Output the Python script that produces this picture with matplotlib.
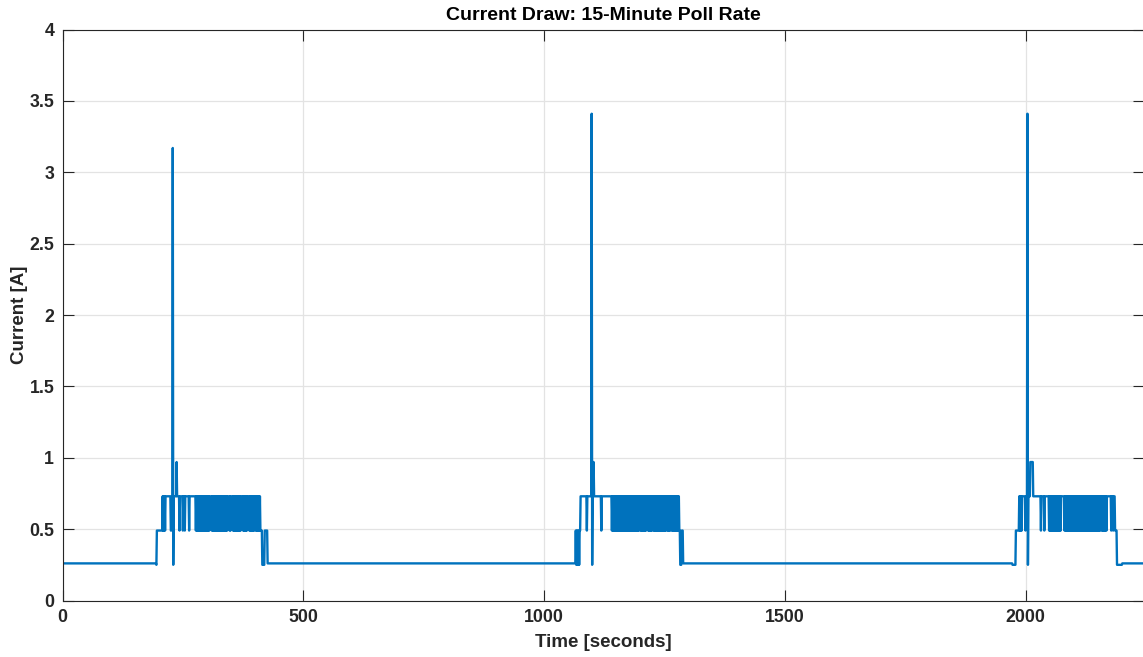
import numpy as np
import matplotlib.pyplot as plt

# current levels (A) used in the burst strings, one char = one 1 s sample
levels = {"b": 0.26, "d": 0.25, "m": 0.49, "h": 0.73, "k": 0.97}
peaks = [3.17, 3.41, 3.41]
burst_starts = [190, 1060, 1968]
t_end = 2250

burst1 = ("bbbbbd" "mmmmmmmmmmmm" "hmhmhmh" "hhhhhhhhhh" "mmhh" "Pd" "hhhhhh" "k"
          "hhhhh" "m" "hhhhhh" "m" "hhh" "m" "hhhhhhhh" "m" "hhhhhhhhhhhhh"
          "mhmhmhmhmh" "mhmhmhmhmh" "mhmhmhmhm" "hhhh"
          "mhmhmhmhmh" "mhmhmhmhmh" "mhmhmhmhmh" "mhmh" "hhh" "mhmh" "hhh"
          "mhmhmhmhmh" "mhmhmhmh" "hhh" "mhmhmhmhmh" "hhh" "mhmhmhmhmhm" "hh"
          "mhmhmhmhmh" "mmmm" "ddddd" "mmmmmm" "bb")
burst2 = ("bbbbbb" "mdmdmdmdm" "m" "hhhhhhhhhhhhh" "m" "hhhhhhhhh" "Pd" "hkkh"
          "hhhhhhhhhhhhhh" "m" "hhhhhhhhhh" "hhhhhhhhhh" "h"
          "mhmhmhmhmh" "mhmhmhmhmh" "mhmhmhmhmh" "mhmhmhmhmh" "mhmhmhmhmh" "mhmhmhm"
          "hh" "mhmhmhmhmh" "mhmh" "hh" "mhmhmhmhm" "hh"
          "mhmhmhmhmh" "mhmhmhmhmh" "mhmhmhm" "hh" "mhmhmhm" "hh"
          "mhmhmhmhmh" "mhmhmh" "mm" "ddd" "mmm" "bb")
burst3 = ("bbbbb" "ddddddd" "mmmmmmm" "hmhmhmh" "hhhhhh" "m" "hhh" "Pd" "hhh"
          "hkkkkkkh" "hhhhhhhhhhhhhhh" "m" "hhhhhh" "m" "hhhhhhhhh"
          "mhmhmhmhmh" "mhmhmhmhmh" "mhmhm" "hhhhhhh"
          "mhmhmhmhmh" "mhmhmhmhmh" "mhmhmhmhmh" "mhmhmhmhmh" "mhmhmhmhmh"
          "mhmhmhmhmh" "mhmhmhmhmh" "mhmhm" "hh" "mhmhmhmhmhmh" "hhhhhhhh"
          "mhhhmhhhm" "mmm" "ddddddddddd" "bb")
bursts = [burst1, burst2, burst3]

t = [0.0]
y = [levels["b"]]
for start, s, pk in zip(burst_starts, bursts, peaks):
    for i, c in enumerate(s):
        t.append(start + i)
        y.append(pk if c == "P" else levels[c])
t.append(t_end)
y.append(levels["b"])

plt.rcParams['font.family'] = ['Liberation Sans', 'DejaVu Sans']
fig = plt.figure(figsize=(11.43, 6.57), dpi=100)
ax = fig.add_axes([62.5 / 1143, 1 - 600.5 / 657, (1143.5 - 62.5) / 1143, (600.5 - 29.5) / 657])
ax.plot(t, y, color='#0072BD', linewidth=1.7)

ax.set_xlim(0, 2245)
ax.set_ylim(0, 4)
ax.set_xticks([0, 500, 1000, 1500, 2000])
ax.set_yticks([0, 0.5, 1, 1.5, 2, 2.5, 3, 3.5, 4])
ax.set_yticklabels(['0', '0.5', '1', '1.5', '2', '2.5', '3', '3.5', '4'])
ax.grid(True, color='#e3e3e3', linewidth=0.9)
ax.set_axisbelow(True)
ax.tick_params(direction='in', length=8, width=0.8, top=True, right=True,
               labelsize=12.8, colors='#262626', pad=6)
for lbl in ax.get_xticklabels() + ax.get_yticklabels():
    lbl.set_fontweight('bold')
for sp in ax.spines.values():
    sp.set_color('#262626')
    sp.set_linewidth(0.8)

ax.set_title('Current Draw: 15-Minute Poll Rate', fontsize=14, fontweight='bold', color='#000000', pad=7)
ax.set_xlabel('Time [seconds]', fontsize=13.5, fontweight='bold', color='#262626', labelpad=6)
ax.set_ylabel('Current [A]', fontsize=13.5, fontweight='bold', color='#262626', labelpad=1)

fig.savefig('out.png', dpi=100)
